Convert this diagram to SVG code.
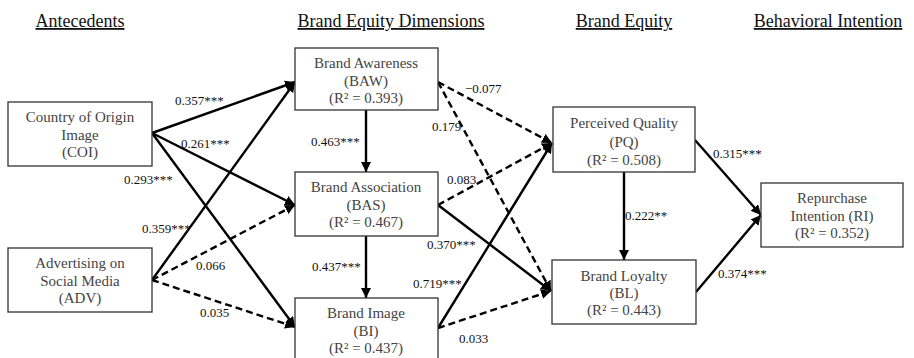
<svg xmlns="http://www.w3.org/2000/svg" width="914" height="358" viewBox="0 0 914 358">
<style>
.title{font-family:"Liberation Serif","Times New Roman",serif;font-size:18px;fill:#111;text-anchor:middle;text-decoration:underline;}
.box{fill:#fff;stroke:#333;stroke-width:1.3;}
.bt{font-family:"Liberation Serif","Times New Roman",serif;font-size:15px;fill:#444;text-anchor:middle;}
.lbl{font-family:"Liberation Serif","Times New Roman",serif;font-size:13px;fill:#111;}
.s{fill:none;stroke:#000;stroke-width:2.4;marker-end:url(#ah);}
.d{fill:none;stroke:#000;stroke-width:2.4;stroke-dasharray:7,4;marker-end:url(#ah);}
</style>
<defs>
<marker id="ah" markerUnits="userSpaceOnUse" markerWidth="12" markerHeight="10" refX="10" refY="5" orient="auto">
<path d="M0,0 L10,5 L0,10 z" fill="#000"/>
</marker>
</defs>
<g id="titles">
<text class="title" x="80" y="27">Antecedents</text>
<text class="title" x="391" y="27">Brand Equity Dimensions</text>
<text class="title" x="624" y="27">Brand Equity</text>
<text class="title" x="828" y="27">Behavioral Intention</text>
</g>
<g id="connectors">
<line class="s" x1="152" y1="133" x2="295" y2="82"/>
<line class="s" x1="152" y1="133" x2="295" y2="205"/>
<line class="s" x1="152" y1="133" x2="295" y2="327"/>
<line class="s" x1="152" y1="280" x2="295" y2="82"/>
<line class="d" x1="152" y1="280" x2="295" y2="205"/>
<line class="d" x1="152" y1="280" x2="295" y2="327"/>
<line class="s" x1="366" y1="110" x2="366" y2="172"/>
<line class="s" x1="366" y1="236" x2="366" y2="298"/>
<line class="d" x1="438" y1="82" x2="552" y2="143"/>
<line class="d" x1="438" y1="82" x2="551" y2="291"/>
<line class="d" x1="438" y1="205" x2="552" y2="143"/>
<line class="s" x1="438" y1="205" x2="551" y2="291"/>
<line class="s" x1="438" y1="328" x2="552" y2="143"/>
<line class="d" x1="438" y1="328" x2="551" y2="291"/>
<line class="s" x1="624" y1="172" x2="624" y2="260"/>
<line class="s" x1="695" y1="140" x2="761" y2="215"/>
<line class="s" x1="696" y1="292" x2="761" y2="215"/>
</g>
<g id="labels">
<text class="lbl" x="175" y="105">0.357***</text>
<text class="lbl" x="181" y="148">0.261***</text>
<text class="lbl" x="124" y="184">0.293***</text>
<text class="lbl" x="142" y="233">0.359***</text>
<text class="lbl" x="196" y="270">0.066</text>
<text class="lbl" x="200" y="317">0.035</text>
<text class="lbl" x="311" y="146">0.463***</text>
<text class="lbl" x="312" y="271">0.437***</text>
<text class="lbl" x="465" y="93">−0.077</text>
<text class="lbl" x="432" y="131">0.179</text>
<text class="lbl" x="447" y="184">0.083</text>
<text class="lbl" x="427" y="249">0.370***</text>
<text class="lbl" x="413" y="288">0.719***</text>
<text class="lbl" x="459" y="343">0.033</text>
<text class="lbl" x="625" y="220">0.222**</text>
<text class="lbl" x="713" y="158">0.315***</text>
<text class="lbl" x="718" y="278">0.374***</text>
</g>
<g id="COI">
<rect class="box" x="8" y="102" width="144" height="64"/>
<text class="bt" x="80" y="122">Country of Origin</text>
<text class="bt" x="80" y="140">Image</text>
<text class="bt" x="80" y="157">(COI)</text>
</g>
<g id="ADV">
<rect class="box" x="8" y="248" width="144" height="64"/>
<text class="bt" x="80" y="268">Advertising on</text>
<text class="bt" x="80" y="286">Social Media</text>
<text class="bt" x="80" y="303">(ADV)</text>
</g>
<g id="BAW">
<rect class="box" x="295" y="48" width="143" height="62"/>
<text class="bt" x="366" y="68">Brand Awareness</text>
<text class="bt" x="366" y="86">(BAW)</text>
<text class="bt" x="366" y="103">(R² = 0.393)</text>
</g>
<g id="BAS">
<rect class="box" x="295" y="172" width="143" height="64"/>
<text class="bt" x="366" y="192">Brand Association</text>
<text class="bt" x="366" y="210">(BAS)</text>
<text class="bt" x="366" y="227">(R² = 0.467)</text>
</g>
<g id="BI">
<rect class="box" x="295" y="298" width="143" height="66"/>
<text class="bt" x="366" y="318">Brand Image</text>
<text class="bt" x="366" y="336">(BI)</text>
<text class="bt" x="366" y="353">(R² = 0.437)</text>
</g>
<g id="PQ">
<rect class="box" x="553" y="107" width="142" height="65"/>
<text class="bt" x="624" y="128">Perceived Quality</text>
<text class="bt" x="624" y="147">(PQ)</text>
<text class="bt" x="624" y="165">(R² = 0.508)</text>
</g>
<g id="BL">
<rect class="box" x="552" y="260" width="144" height="64"/>
<text class="bt" x="624" y="281">Brand Loyalty</text>
<text class="bt" x="624" y="298">(BL)</text>
<text class="bt" x="624" y="315">(R² = 0.443)</text>
</g>
<g id="RI">
<rect class="box" x="761" y="183" width="142" height="64"/>
<text class="bt" x="832" y="203">Repurchase</text>
<text class="bt" x="832" y="221">Intention (RI)</text>
<text class="bt" x="832" y="238">(R² = 0.352)</text>
</g>
</svg>
